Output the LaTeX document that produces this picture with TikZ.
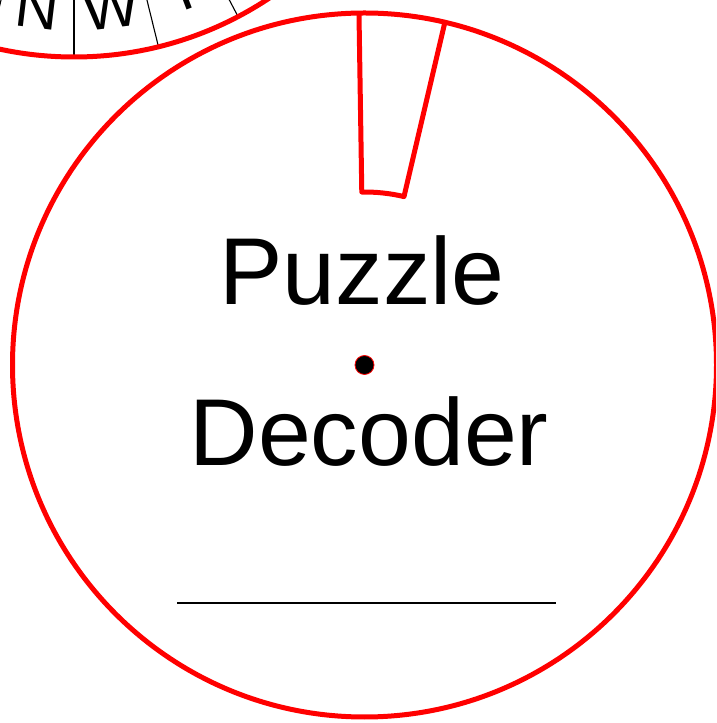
\documentclass[tikz,border=0pt]{standalone}
\usepackage{fontspec}
\setmainfont{Liberation Sans}
\usetikzlibrary{calc,positioning}

\begin{document}
\begin{tikzpicture}[
  x=1pt,y=1pt,
  rim/.style={draw=red,line width=5pt},
  divider/.style={draw=black,line width=1.1pt},
  letter/.style={font=\fontsize{60}{64}\selectfont,inner sep=0pt},
  title/.style={font=\fontsize{95}{110}\selectfont,anchor=base,inner sep=0pt},
  dot/.style={circle,fill=black,draw=red,line width=0.8pt,minimum size=19pt,inner sep=0pt}
]
\clip (0,0) rectangle (716,723);
\fill[white] (0,0) rectangle (716,723);

% letter wheel, mostly off the page
\coordinate (wheel) at (74,1019);
\foreach \k in {-1,...,2}
  \draw[divider] ($(wheel)+(270+\k*13.846:240pt)$) -- ($(wheel)+(270+\k*13.846:353pt)$);
\foreach \l [count=\i] in {N,W,T}
  \node[letter,rotate={(\i-1.5)*13.846}] (let\i)
    at ($(wheel)+({270+(\i-1.5)*13.846}:306pt)$) {\l};
\draw[rim] (wheel) circle[radius=353pt];

% decoder disc
\coordinate (hub) at (364.5,358);
\draw[rim] (hub) circle[radius=352pt];
\draw[rim,line join=round] ($(hub)+(76.8:352pt)$) -- ($(hub)+(76.8:173pt)$)
  arc[start angle=76.8,end angle=90.9,radius=173pt] -- ($(hub)+(90.9:352pt)$);

\node[title] (puzzle) at (362,418) {Puzzle};
\node[title] (decoder) at (369,257) {Decoder};
\node[dot] (pivot) at (hub) {};

\coordinate (nameL) at (177,120);
\coordinate (nameR) at (556,120);
\draw[line width=2.4pt] (nameL) -- (nameR);
\end{tikzpicture}
\end{document}
